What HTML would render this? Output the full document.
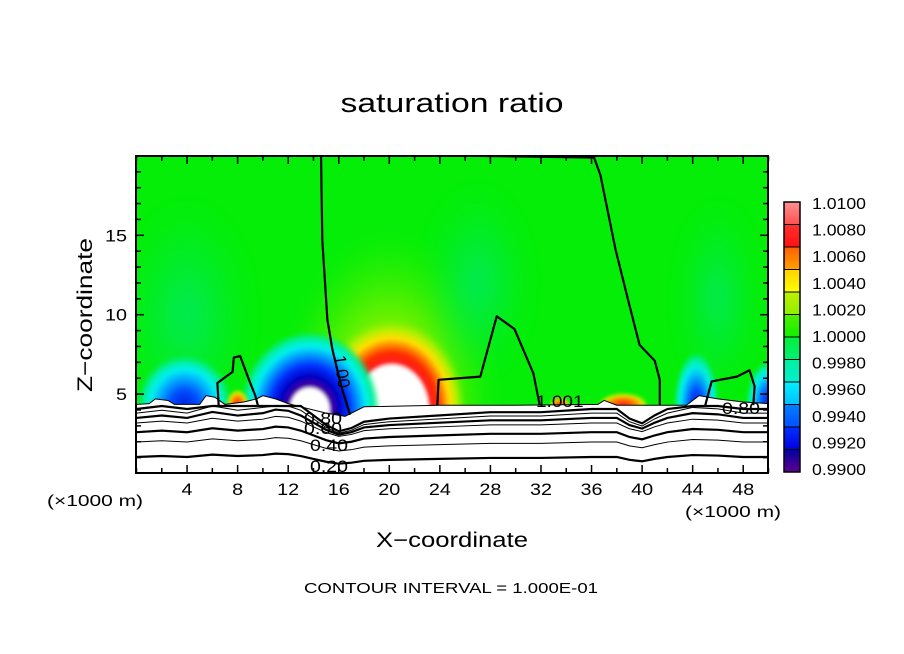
<!DOCTYPE html>
<html><head><meta charset="utf-8"><style>
html,body{margin:0;padding:0;background:#fff;}
svg{display:block;font-family:"Liberation Sans",sans-serif;}
</style></head><body>
<svg id="c" width="904" height="654" viewBox="0 0 904 654">
<defs>
<clipPath id="plotclip"><rect x="136" y="156" width="632" height="317"/></clipPath>
<filter id="blur8" x="-50%" y="-50%" width="200%" height="200%"><feGaussianBlur stdDeviation="10"/></filter>
<filter id="blur3" x="-20%" y="-20%" width="140%" height="140%"><feGaussianBlur stdDeviation="1.5"/></filter>
<radialGradient id="gWarm" cx="50%" cy="50%" r="50%">
<stop offset="0" stop-color="#fff"/><stop offset="0.48" stop-color="#fff"/>
<stop offset="0.51" stop-color="#ff2020"/><stop offset="0.62" stop-color="#ff2a00"/>
<stop offset="0.7" stop-color="#ff8000"/><stop offset="0.78" stop-color="#ffe000"/>
<stop offset="0.88" stop-color="#b0f000"/><stop offset="1" stop-color="#70f000" stop-opacity="0"/>
</radialGradient>
<radialGradient id="gCold" cx="50%" cy="50%" r="50%">
<stop offset="0" stop-color="#fff"/><stop offset="0.27" stop-color="#fff"/>
<stop offset="0.3" stop-color="#5000a0"/><stop offset="0.42" stop-color="#0000c0"/>
<stop offset="0.56" stop-color="#0030ff"/><stop offset="0.68" stop-color="#0090ff"/>
<stop offset="0.8" stop-color="#00f0f0"/><stop offset="0.9" stop-color="#00f0a0"/>
<stop offset="1" stop-color="#00f060" stop-opacity="0"/>
</radialGradient>
<radialGradient id="gBlue" cx="50%" cy="50%" r="50%">
<stop offset="0" stop-color="#0020e0"/><stop offset="0.3" stop-color="#0050ff"/>
<stop offset="0.5" stop-color="#00a0ff"/><stop offset="0.7" stop-color="#00f0f0"/>
<stop offset="0.85" stop-color="#00f0a0"/>
<stop offset="1" stop-color="#00f060" stop-opacity="0"/>
</radialGradient>
<radialGradient id="gPlume" cx="50%" cy="50%" r="50%">
<stop offset="0" stop-color="#a0f000"/><stop offset="0.5" stop-color="#70f000"/>
<stop offset="1" stop-color="#30f000" stop-opacity="0"/>
</radialGradient>
<radialGradient id="gTeal" cx="50%" cy="50%" r="50%">
<stop offset="0" stop-color="#00e878"/><stop offset="1" stop-color="#00ec50" stop-opacity="0"/>
</radialGradient>
<radialGradient id="gRed" cx="50%" cy="50%" r="50%">
<stop offset="0" stop-color="#ff1010"/><stop offset="0.5" stop-color="#ff8000"/>
<stop offset="0.8" stop-color="#e0f000"/><stop offset="1" stop-color="#80f000" stop-opacity="0"/>
</radialGradient>
</defs>
<text x="452" y="112" font-size="27" text-anchor="middle" textLength="223" lengthAdjust="spacingAndGlyphs">saturation ratio</text>
<g id="plot" clip-path="url(#plotclip)"></g>
<rect x="136" y="156" width="632" height="317" fill="none" stroke="#000" stroke-width="2"/>
<g id="axes"></g>
<text transform="translate(92,315) rotate(-90)" font-size="21" text-anchor="middle" textLength="154" lengthAdjust="spacingAndGlyphs">Z−coordinate</text>
<text x="452" y="547" font-size="21" text-anchor="middle" textLength="152" lengthAdjust="spacingAndGlyphs">X−coordinate</text>
<text x="95" y="506" font-size="16" text-anchor="middle" textLength="96" lengthAdjust="spacingAndGlyphs">(×1000 m)</text>
<text x="733" y="517" font-size="16" text-anchor="middle" textLength="96" lengthAdjust="spacingAndGlyphs">(×1000 m)</text>
<text x="451" y="593" font-size="15" text-anchor="middle" textLength="294" lengthAdjust="spacingAndGlyphs">CONTOUR INTERVAL = 1.000E-01</text>
<g id="cbar"></g>
</svg>
<script>
const xTicksMajor = [4,8,12,16,20,24,28,32,36,40,44,48];
const zTicksMajor = [5,10,15];
const cbarLabels = ["1.0100","1.0080","1.0060","1.0040","1.0020","1.0000","0.9980","0.9960","0.9940","0.9920","0.9900"];
const cbarColors = [["#ff9090","#ff5050"],["#ff3030","#ff1010"],["#ff6000","#ffa000"],["#ffd000","#ffff00"],["#c0f000","#90f000"],["#50f000","#10f000"],["#00f040","#00f070"],["#00f0a0","#00f0d0"],["#00f0ff","#00c0ff"],["#0080ff","#0050ff"],["#0030ff","#0000e0"],["#0000a0","#600090"]];
// color features: centre x (km), centre z, half-width (km), half-height (km), type
const blobX = [4, 20, 20.2, 13.7, 3.8, 8, 44.3, 50, 38.5, 33.5, 27, 46];
const blobZ = [10, 4.3, 4.0, 4.0, 4.3, 4.3, 4.3, 4.3, 4.3, 4.3, 12, 11];
const blobW = [5, 8.5, 5.9, 5.6, 3.8, 0.9, 1.8, 1.8, 2, 0.8, 4, 3];
const blobH = [7, 11, 5.8, 5.0, 3.2, 1.0, 3.4, 2.8, 0.8, 0.5, 6, 6];
const blobType = ["teal","plume","warm","cold","blue","red","blue","blue","red","red","teal","teal"];
const groundX = [0,1,1.5,2.5,3,5,5.5,6.2,7,8.5,9.5,10,11,12,13,14,15,16.5,18,24,30,36.5,37,38,43.5,44.5,46,48,50];
const groundZ = [4.35,4.4,4.7,4.6,4.35,4.35,4.9,4.8,4.35,4.5,4.7,4.9,4.7,4.4,4.2,4.0,3.8,3.6,4.2,4.3,4.3,4.35,4.6,4.3,4.3,4.9,4.7,4.5,4.4];
const lvlZ = [1.04, 1.98, 2.6, 3.18, 3.5, 3.8, 4.06];
const lvlAmp = [0.6, 0.8, 1.0, 1.2, 1.5, 1.8, 2.0];
const cx = [0,2,4,6,8,10,11,12,13,14,15,16,17,18,20,24,28,32,36,38,39,40,41,42,44,46,48,50];
const cdz = [0,0.1,0,0.25,0.1,0.2,0.35,0.3,0.1,-0.2,-0.5,-0.7,-0.6,-0.4,-0.3,-0.2,-0.1,-0.1,0,0,-0.3,-0.45,-0.2,0,0.2,0.15,0,0];
const c1x = [14.6,14.7,15.1,15.5,16.2,16.9];
const c1z = [20,14.7,9.7,7.8,5.5,3.7];
const c2x = [14.6,27,36.2,36.7,37.9,38.9,39.8,41,41.4,41.4];
const c2z = [20,20,19.9,18.8,14.1,10.9,8.1,7.1,5.9,4.3];
const c3x = [23.8,23.9,27.2,28.5,29.9,31.4,31.9];
const c3z = [4.3,5.9,6.1,9.9,9.1,6.3,4.3];
const c4x = [6.5,6.4,7.6,7.7,8.2,8.9,9.4,9.6];
const c4z = [4.3,5.7,6.4,7.3,7.4,5.9,4.9,4.3];
const c5x = [45,45.5,47.5,48.5,48.9,48.8];
const c5z = [4.3,5.8,6.1,6.5,5.5,4.3];

const X0=136.5, XS=12.64, Z0=473.5, ZS=15.88;
const sx = x => X0 + x*XS;
const sz = z => Z0 - z*ZS;
const NS="http://www.w3.org/2000/svg";
function mk(tag, attrs, parent){const e=document.createElementNS(NS,tag);for(const k in attrs)e.setAttribute(k,attrs[k]);parent.appendChild(e);return e;}
const plot=document.getElementById('plot'), axes=document.getElementById('axes'), cbar=document.getElementById('cbar');

const bg=mk('rect',{x:136,y:156,width:632,height:317,fill:'#04ee08'},plot);


const fills={teal:'url(#gTeal)',plume:'url(#gPlume)',warm:'url(#gWarm)',cold:'url(#gCold)',blue:'url(#gBlue)',red:'url(#gRed)'};
for(let i=0;i<blobX.length;i++){
  const t=blobType[i];
  const soft=(t==='teal'||t==='plume');
  const e=mk('ellipse',{cx:sx(blobX[i]),cy:sz(blobZ[i]),rx:blobW[i]*XS,ry:blobH[i]*ZS,fill:fills[t],filter:soft?'url(#blur8)':'url(#blur3)',opacity:t==='teal'?0.75:1},plot);
  
  
}
let gp='M'+sx(0)+','+sz(0);
for(let i=0;i<groundX.length;i++) gp+=' L'+sx(groundX[i])+','+sz(groundZ[i]);
gp+=' L'+sx(50)+','+sz(0)+' Z';
const g=mk('path',{d:gp,fill:'#fff',stroke:'#000','stroke-width':1},plot);


for(let l=0;l<lvlZ.length;l++){
  let d='';
  for(let i=0;i<cx.length;i++){
    const z=Math.min(lvlZ[l]+cdz[i]*lvlAmp[l], 4.25);
    d+=(i?' L':'M')+sx(cx[i])+','+sz(z);
  }
  const p=mk('path',{d:d,fill:'none',stroke:'#000','stroke-width':(l%2===0)?2.2:1},plot);
  
  
}
const lines=[[c1x,c1z],[c2x,c2z],[c3x,c3z],[c4x,c4z],[c5x,c5z]];
lines.forEach((ln,k)=>{
  let d='';
  for(let i=0;i<ln[0].length;i++) d+=(i?' L':'M')+sx(ln[0][i])+','+sz(ln[1][i]);
  const p=mk('path',{d:d,fill:'none',stroke:'#000','stroke-width':2.2,'stroke-linejoin':'round'},plot);
  
  
});
const labs=[["0.80",304,424],["0.60",304,434],["0.40",310,451],["0.20",310,472],["1.001",536,407],["0.80",722,414]];
labs.forEach((a,i)=>{
  const t=mk('text',{x:a[1],y:a[2],'font-size':17,textLength:a[0].length*9.5,lengthAdjust:'spacingAndGlyphs'},plot);
  t.textContent=a[0];
  
  
});
const r1=mk('text',{transform:'translate(334,356) rotate(82)','font-size':17},plot);
r1.textContent='1.00';



for(let x=0;x<=50;x+=2){
  const major=xTicksMajor.includes(x);
  const L=major?8:5;
  const t1=mk('line',{x1:sx(x),x2:sx(x),y1:473,y2:473-L,stroke:'#000','stroke-width':1.5},axes);
  
  
  const t2=mk('line',{x1:sx(x),x2:sx(x),y1:156,y2:156+L,stroke:'#000','stroke-width':1.5},axes);
  
  
}
xTicksMajor.forEach(x=>{
  const s=String(x);
  const t=mk('text',{x:sx(x),y:495,'font-size':17,'text-anchor':'middle',textLength:s.length*11,lengthAdjust:'spacingAndGlyphs'},axes);
  t.textContent=s;
  
  
});
for(let z=1;z<=19;z++){
  const major=zTicksMajor.includes(z);
  const L=major?8:5;
  const t1=mk('line',{x1:136,x2:136+L,y1:sz(z),y2:sz(z),stroke:'#000','stroke-width':1.5},axes);
  
  
  const t2=mk('line',{x1:768,x2:768-L,y1:sz(z),y2:sz(z),stroke:'#000','stroke-width':1.5},axes);
  
  
}
zTicksMajor.forEach(z=>{
  const s=String(z);
  const t=mk('text',{x:127,y:sz(z)+6,'font-size':17,'text-anchor':'end',textLength:s.length*11,lengthAdjust:'spacingAndGlyphs'},axes);
  t.textContent=s;
  
  
});
const cbTop=202, cbBot=472, nb=cbarColors.length, bh=(cbBot-cbTop)/nb;
cbarColors.forEach((c,i)=>{
  const id='cb'+i;
  const lg=mk('linearGradient',{id:id,x1:0,y1:0,x2:0,y2:1},document.querySelector('defs'));
  mk('stop',{offset:0,'stop-color':c[0]},lg);
  mk('stop',{offset:1,'stop-color':c[1]},lg);
  const r=mk('rect',{x:784,y:cbTop+i*bh,width:16,height:bh,fill:'url(#'+id+')',stroke:'#000','stroke-width':1},cbar);
  
  
});
const fr=mk('rect',{x:784,y:cbTop,width:16,height:cbBot-cbTop,fill:'none',stroke:'#000','stroke-width':1.5},cbar);


cbarLabels.forEach((s,i)=>{
  const t=mk('text',{x:812,y:cbTop+7+i*(cbBot-cbTop-4)/(cbarLabels.length-1),'font-size':16,textLength:54,lengthAdjust:'spacingAndGlyphs'},cbar);
  t.textContent=s;
  
  
});
</script>
</body></html>
